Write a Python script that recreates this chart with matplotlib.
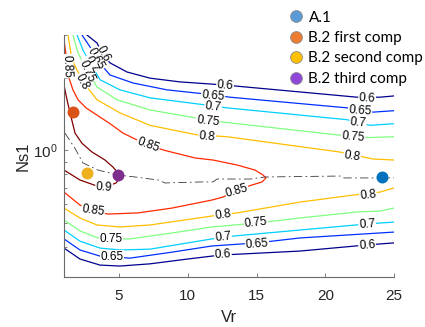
import matplotlib
matplotlib.use("Agg")
import numpy as np
import matplotlib.pyplot as plt
from matplotlib.lines import Line2D
from matplotlib.ticker import LogLocator, NullFormatter, FixedLocator, LogFormatterSciNotation

# efficiency levels of the contour map
levels = [0.6, 0.65, 0.7, 0.75, 0.8, 0.85, 0.9]

# contour lines: Vr on x, Ns1 on y
# "up" = branch above the optimum line, "lo" = branch below it
vr_060_up = [2.67, 3.40, 3.84, 4.35, 5.58, 7.25, 9.44, 11.76, 13.29, 22.31, 23.98, 25.0]
ns_060_up = [3.00, 2.78, 2.48, 2.30, 2.11, 1.99, 1.92, 1.88, 1.85, 1.66, 1.66, 1.68]
vr_065_up = [2.31, 2.89, 3.40, 4.35, 6.02, 8.49, 11.76, 13.07, 21.58, 23.47, 25.0]
ns_065_up = [3.00, 2.68, 2.37, 2.05, 1.90, 1.78, 1.70, 1.66, 1.50, 1.44, 1.46]
vr_070_up = [1.95, 2.38, 2.96, 3.62, 5.07, 7.25, 11.76, 12.85, 21.58, 23.25, 25.0]
ns_070_up = [3.00, 2.60, 2.28, 1.96, 1.78, 1.65, 1.53, 1.50, 1.34, 1.27, 1.29]
vr_075_up = [1.65, 2.02, 2.67, 3.40, 4.85, 7.25, 10.67, 12.56, 20.85, 23.04, 25.0]
ns_075_up = [3.00, 2.53, 2.15, 1.83, 1.62, 1.47, 1.36, 1.31, 1.16, 1.13, 1.14]
vr_080_up = [1.29, 1.58, 2.38, 3.40, 5.07, 7.25, 10.67, 12.85, 21.07, 23.47, 25.0]
ns_080_up = [3.00, 2.37, 1.92, 1.62, 1.43, 1.27, 1.16, 1.14, 0.985, 0.922, 0.913]

vr_085 = [1.00, 1.15, 1.29, 1.65, 2.02, 2.60, 3.40, 4.35, 5.29, 7.11, 8.35, 10.53, 11.84,
          13.58, 14.89, 15.47, 15.69, 15.40, 14.67, 14.02, 13.58, 12.56, 11.76, 8.85,
          6.38, 4.20, 3.11, 2.16, 1.00]
ns_085 = [2.86, 2.48, 2.05, 1.78, 1.62, 1.50, 1.40, 1.29, 1.18, 1.05, 1.00, 0.931, 0.913,
          0.871, 0.830, 0.792, 0.770, 0.741, 0.720, 0.700, 0.680, 0.642, 0.624, 0.578,
          0.552, 0.546, 0.562, 0.595, 0.673]
vr_090 = [1.00, 1.22, 1.44, 1.80, 2.31, 3.04, 3.98, 4.56, 4.93, 5.07, 4.78, 3.98, 3.40, 2.16, 1.00]
ns_090 = [1.86, 1.62, 1.43, 1.18, 1.07, 0.985, 0.913, 0.854, 0.807, 0.770, 0.734, 0.706,
          0.713, 0.755, 0.830]

vr_080_lo = [1.00, 2.16, 3.40, 5.07, 7.25, 11.76, 13.58, 18.16, 22.02, 23.98, 25.0]
ns_080_lo = [0.578, 0.526, 0.492, 0.483, 0.492, 0.536, 0.552, 0.612, 0.654, 0.673, 0.700]
vr_075_lo = [1.00, 2.16, 3.47, 4.42, 5.80, 8.85, 11.76, 14.96, 18.16, 22.31, 23.98, 25.0]
ns_075_lo = [0.516, 0.465, 0.435, 0.431, 0.431, 0.456, 0.483, 0.501, 0.526, 0.557, 0.562, 0.578]
vr_070_lo = [1.00, 2.16, 3.62, 5.07, 7.25, 11.76, 12.56, 18.16, 23.04, 25.0]
ns_070_lo = [0.469, 0.422, 0.395, 0.388, 0.391, 0.431, 0.439, 0.469, 0.497, 0.506]
vr_065_lo = [1.00, 2.16, 3.62, 4.49, 5.80, 8.85, 11.76, 15.04, 18.16, 25.0]
ns_065_lo = [0.431, 0.388, 0.366, 0.363, 0.359, 0.380, 0.403, 0.415, 0.435, 0.460]
vr_060_lo = [1.00, 2.16, 3.62, 5.07, 7.25, 10.0, 11.76, 12.56, 18.16, 23.04, 25.0]
ns_060_lo = [0.395, 0.356, 0.336, 0.333, 0.340, 0.356, 0.366, 0.370, 0.384, 0.407, 0.415]

# optimum Ns1 line (dash-dot)
vr_opt = [1.07, 1.80, 2.38, 3.47, 4.93, 6.16, 7.84, 8.35, 10.89, 11.84, 12.13, 14.53, 15.62, 21.07, 21.36, 25.0]
ns_opt = [1.18, 1.02, 0.888, 0.830, 0.792, 0.777, 0.755, 0.734, 0.741, 0.741, 0.762, 0.762,
          0.777, 0.784, 0.770, 0.770]

# design points
point_names = ["A.1", "B.2 first comp", "B.2 second comp", "B.2 third comp"]
point_vr = [24.1, 1.65, 2.67, 4.93]
point_ns = [0.777, 1.44, 0.807, 0.79]

level_colors = ["#00008F", "#0030FF", "#00CFFF", "#80FF80", "#FFBF00", "#FF2A00", "#800000"]
point_colors = ["#0072BD", "#D95319", "#EDB120", "#7E2F8E"]
legend_colors = ["#5B9BD5", "#ED7D31", "#FFC000", "#9046D8"]

plt.rcParams['font.family'] = ['Liberation Sans', 'DejaVu Sans']

fig = plt.figure(figsize=(4.25, 3.27), dpi=100)
ax = fig.add_axes([64 / 425, 50 / 327, 330 / 425, 242 / 327])
ax.set_yscale('log')

lines = [
    (0.6, vr_060_up, ns_060_up), (0.65, vr_065_up, ns_065_up), (0.7, vr_070_up, ns_070_up),
    (0.75, vr_075_up, ns_075_up), (0.8, vr_080_up, ns_080_up), (0.85, vr_085, ns_085),
    (0.9, vr_090, ns_090), (0.8, vr_080_lo, ns_080_lo), (0.75, vr_075_lo, ns_075_lo),
    (0.7, vr_070_lo, ns_070_lo), (0.65, vr_065_lo, ns_065_lo), (0.6, vr_060_lo, ns_060_lo),
]
for lev, xs, ys in lines:
    ax.plot(xs, ys, color=level_colors[levels.index(lev)], lw=0.9, zorder=2,
            solid_joinstyle='round')

ax.plot(vr_opt, ns_opt, color='#3a3a3a', lw=0.6, linestyle=(0, (10, 4, 2, 4)), zorder=2.5)

# contour labels: text, Vr, Ns1, rotation
label_spots = [
    ("0.6", 3.84, 2.50, -62), ("0.65", 3.33, 2.39, -62), ("0.7", 2.96, 2.28, -64),
    ("0.75", 2.67, 2.13, -66), ("0.8", 2.31, 1.92, -62), ("0.85", 1.22, 2.23, -88),
    ("0.85", 7.11, 1.053, -20),
    ("0.6", 12.71, 1.846, -4), ("0.65", 11.84, 1.679, -5), ("0.7", 11.84, 1.512, -6),
    ("0.75", 11.47, 1.324, -6), ("0.8", 11.40, 1.137, -5),
    ("0.6", 23.04, 1.647, -3), ("0.65", 22.53, 1.456, -4), ("0.7", 22.38, 1.299, -5),
    ("0.75", 22.02, 1.137, -5), ("0.8", 21.95, 0.949, -9),
    ("0.9", 3.91, 0.706, -3), ("0.85", 3.11, 0.562, -8), ("0.75", 4.42, 0.431, 0),
    ("0.65", 4.49, 0.363, 0),
    ("0.85", 13.58, 0.680, 16), ("0.8", 12.56, 0.541, 8), ("0.75", 14.96, 0.501, 6),
    ("0.7", 12.56, 0.439, 6), ("0.65", 15.04, 0.411, 4), ("0.6", 12.56, 0.370, 3),
    ("0.8", 23.11, 0.654, 6), ("0.7", 23.04, 0.497, 4), ("0.6", 23.04, 0.407, 4),
]
for txt, x, y, rot in label_spots:
    ax.text(x, y, txt, fontsize=8.5, color='black', ha='center', va='center',
            rotation=rot, rotation_mode='anchor', zorder=3,
            bbox=dict(boxstyle='square,pad=0.05', fc='white', ec='none'))

for x, y, c in zip(point_vr, point_ns, point_colors):
    ax.plot(x, y, 'o', color=c, markersize=8.6, markeredgewidth=0, zorder=5)

ax.set_xlim(1, 25)
ax.set_ylim(0.3, 3)
ax.set_xticks([5, 10, 15, 20, 25])
ax.yaxis.set_major_locator(FixedLocator([1]))
ax.yaxis.set_major_formatter(LogFormatterSciNotation())
ax.yaxis.set_minor_locator(LogLocator(base=10, subs=np.arange(2, 10)))
ax.yaxis.set_minor_formatter(NullFormatter())

for side in ['top', 'right']:
    ax.spines[side].set_visible(False)
for side in ['left', 'bottom']:
    ax.spines[side].set_color('#6a6a6a')
    ax.spines[side].set_linewidth(0.8)
ax.tick_params(which='both', direction='in', colors='#6a6a6a', labelcolor='#262626',
               labelsize=11, width=0.6)
ax.tick_params(which='major', length=3)
ax.tick_params(which='minor', length=2)
ax.tick_params(axis='x', which='major', pad=9)
ax.tick_params(axis='y', which='major', pad=4.5)

ax.set_xlabel("Vr", fontsize=12, color='#262626', labelpad=5)
ax.set_ylabel("Ns1", fontsize=12, color='#262626', labelpad=2)

handles = [Line2D([], [], marker='o', ls='none', markersize=8.5, markerfacecolor=c,
                  markeredgecolor='#8a8a8a', markeredgewidth=0.6) for c in legend_colors]
fig.legend(handles, point_names, loc='upper left', bbox_to_anchor=(281 / 425, 1 - 3 / 327),
           frameon=False, borderpad=0, handlelength=1.0, handletextpad=0.3,
           labelspacing=0.42, prop={'family': 'Lato', 'size': 11})

fig.savefig("out.png", dpi=100)
